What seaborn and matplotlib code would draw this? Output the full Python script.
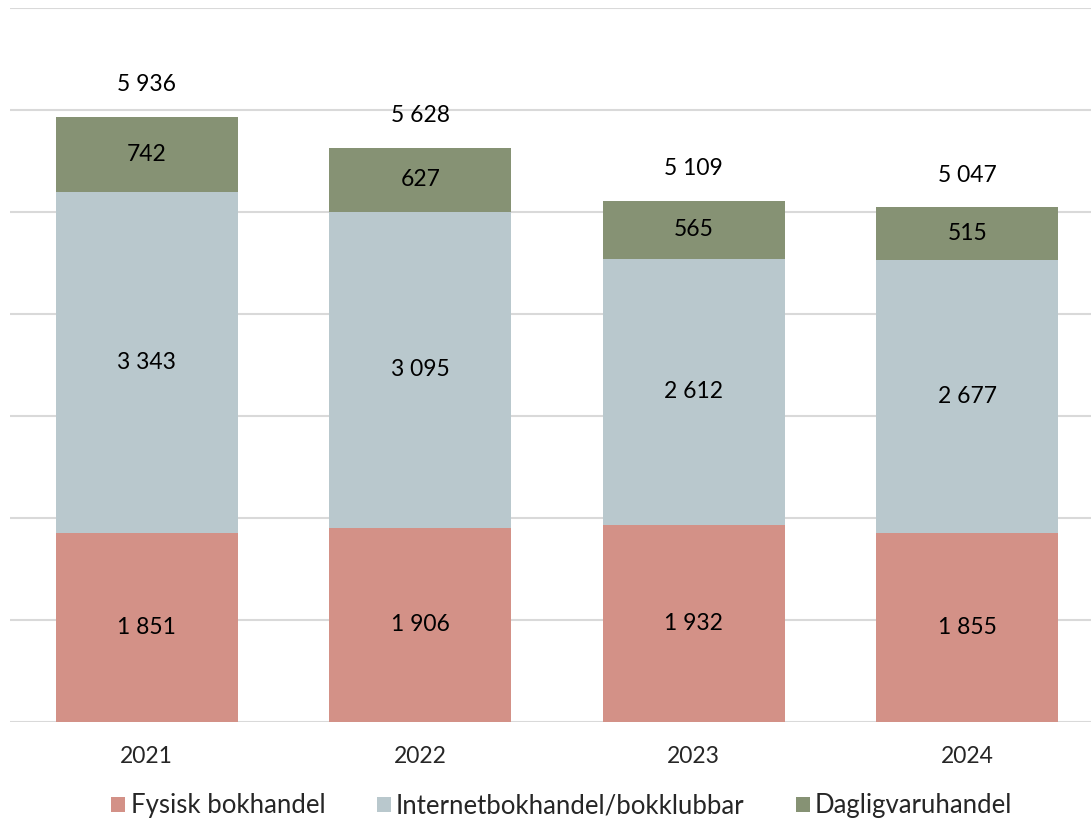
import matplotlib
matplotlib.use("Agg")
import matplotlib.pyplot as plt
import seaborn as sns
import pandas as pd
from matplotlib.patches import Patch

# Data
years = ["2021", "2022", "2023", "2024"]
fysisk = [1851, 1906, 1932, 1855]
internet = [3343, 3095, 2612, 2677]
daglig = [742, 627, 565, 515]
series_names = ["Fysisk bokhandel", "Internetbokhandel/bokklubbar", "Dagligvaruhandel"]
colors = ["#D39187", "#B9C8CD", "#869274"]

df = pd.DataFrame({"year": years, "fysisk": fysisk, "internet": internet, "daglig": daglig})
df["total"] = df["fysisk"] + df["internet"] + df["daglig"]


def fmt(v):
    return f"{int(round(v)):,}".replace(",", " ")


sns.set_style("white")
plt.rcParams["font.family"] = ["Lato", "DejaVu Sans"]

fig = plt.figure(figsize=(10.91, 8.23), dpi=100)
ax = fig.add_axes([10 / 1091, 1 - 722 / 823, 1094 / 1091, 714 / 823])

# Stacked bars, one layer per series
bottom = [0, 0, 0, 0]
for col, color in zip(["fysisk", "internet", "daglig"], colors):
    sns.barplot(data=df, x="year", y=col, bottom=bottom, color=color,
                width=0.665, saturation=1, linewidth=0, ax=ax, zorder=3)
    bottom = [b + v for b, v in zip(bottom, df[col])]

# Segment labels
for cont in ax.containers:
    ax.bar_label(cont, labels=[fmt(b.get_height()) for b in cont],
                 label_type="center", fontsize=16.5, color="black")

# Totals above the bars
for i, t in enumerate(df["total"]):
    ax.annotate(fmt(t), (i, t), xytext=(0, 32), textcoords="offset pixels",
                ha="center", va="center", fontsize=16.5, color="black")

ax.set_ylim(0, 7000)
ax.set_xlim(-0.5, 3.5)
ax.set_yticks(range(0, 7001, 1000))
ax.set_yticklabels([])
ax.yaxis.grid(True, color="#D9D9D9", linewidth=1.5, zorder=0)
ax.tick_params(axis="x", length=0, labelsize=16.5, pad=17)
ax.tick_params(axis="y", length=0)
ax.set_xlabel("")
ax.set_ylabel("")
for s in ax.spines.values():
    s.set_visible(False)

handles = [Patch(facecolor=c, edgecolor="none") for c in colors]
fig.legend(handles, series_names, loc="center", bbox_to_anchor=(0.515, 1 - 806 / 823),
           ncol=3, frameon=False, fontsize=18.5, handlelength=0.55, handleheight=0.55,
           handletextpad=0.2, columnspacing=2.0)

fig.savefig("out.png", dpi=100)
